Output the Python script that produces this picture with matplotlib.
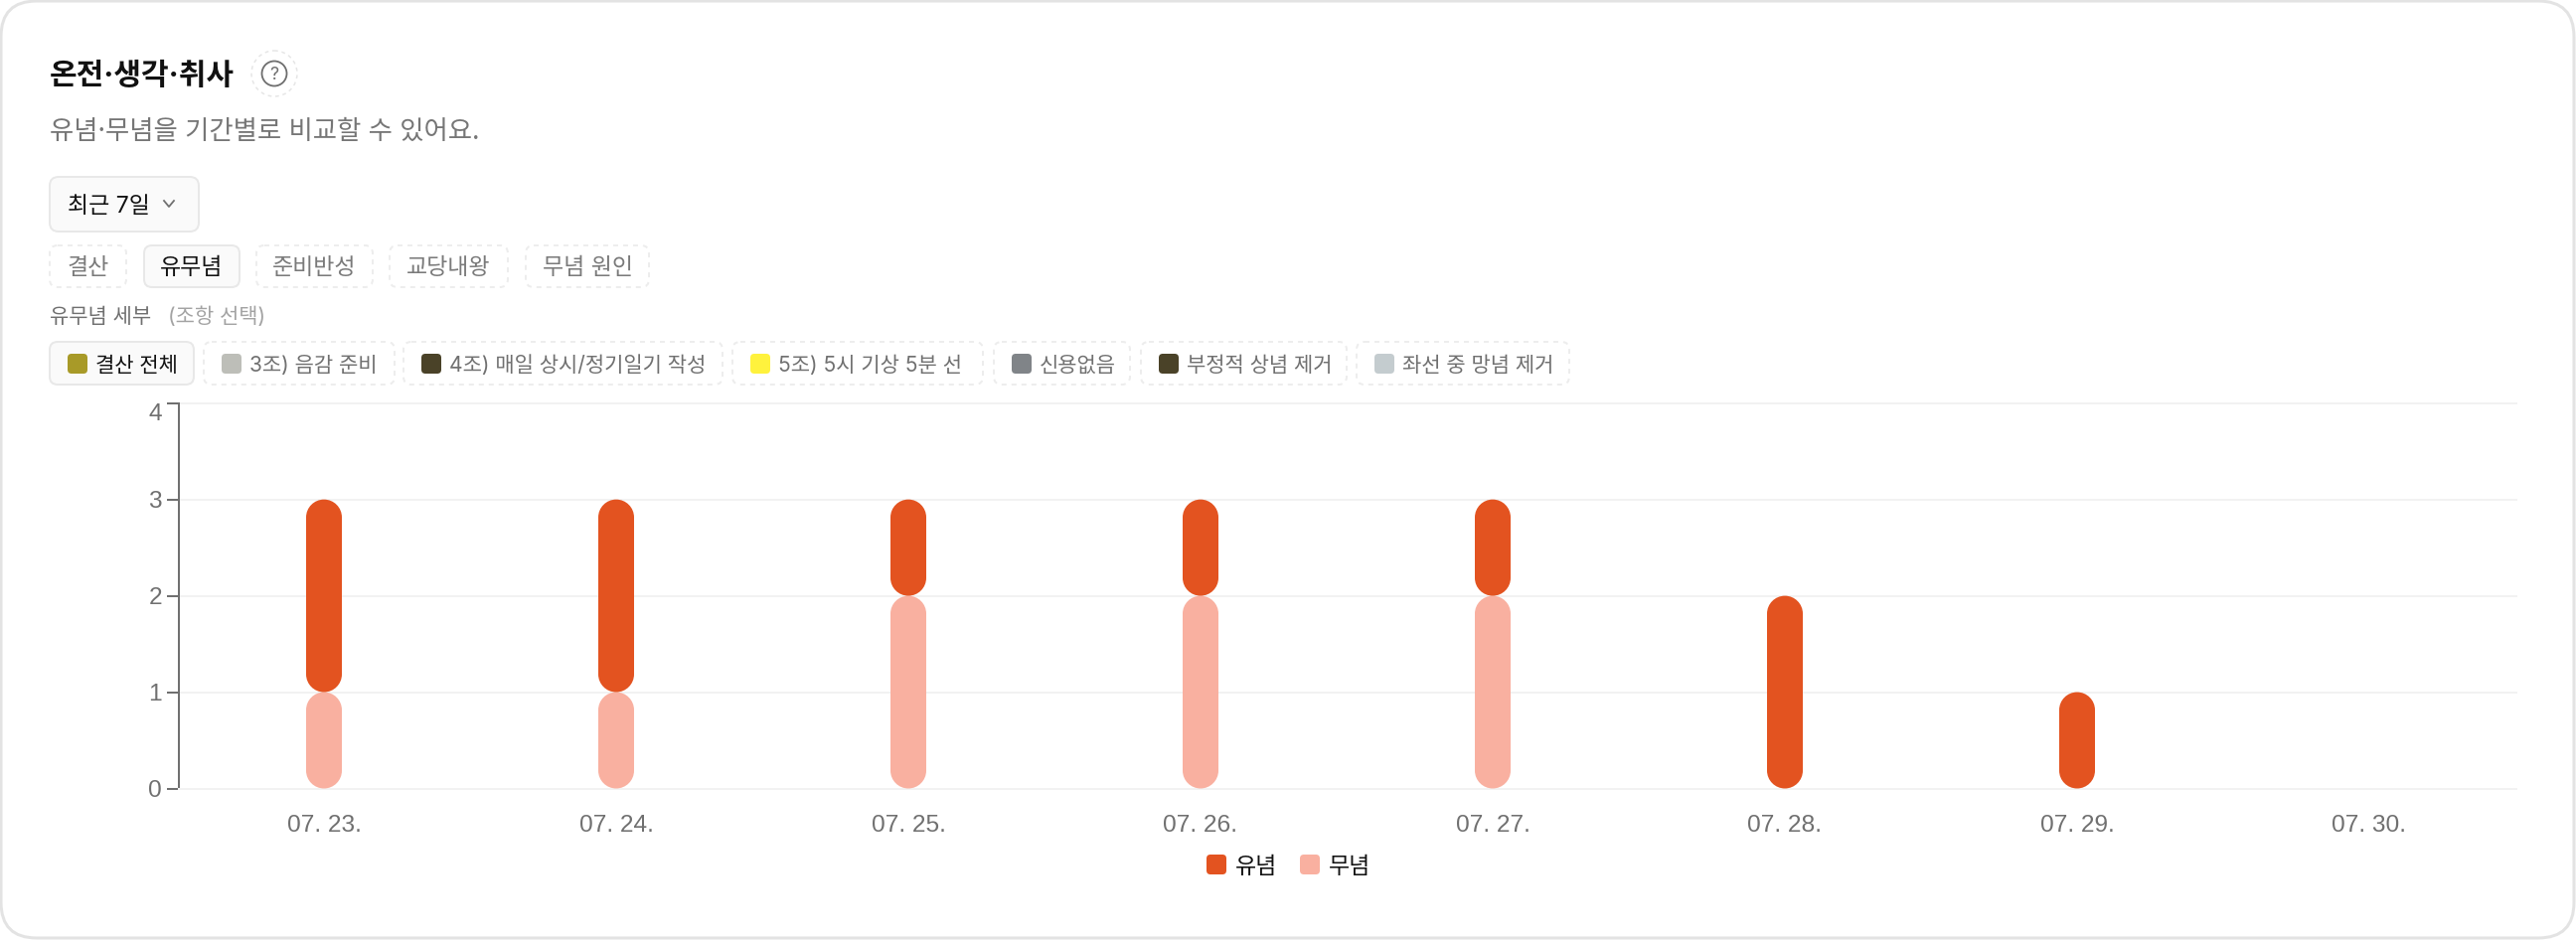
import matplotlib
matplotlib.use("Agg")
import matplotlib.pyplot as plt
from matplotlib.patches import FancyBboxPatch, Circle, PathPatch
from matplotlib.path import Path
import numpy as np

FONT = ['Inter', 'Noto Sans CJK KR', 'DejaVu Sans']
plt.rcParams['font.family'] = FONT

# Data
dates = ["07. 23.", "07. 24.", "07. 25.", "07. 26.", "07. 27.", "07. 28.", "07. 29.", "07. 30."]
yunyeom = [2, 2, 1, 1, 1, 2, 1, 0]
munyeom = [1, 1, 2, 2, 2, 0, 0, 0]
y_ticks = [0, 1, 2, 3, 4]

tabs = ["결산", "유무념", "준비반성", "교당내왕", "무념 원인"]
chips = ["결산 전체", "3조) 음감 준비", "4조) 매일 상시/정기일기 작성", "5조) 5시 기상 5분 선", "신용없음", "부정적 상념 제거", "좌선 중 망념 제거"]
chip_colors = ["#A89A28", "#BDBEB8", "#4A4228", "#FFF23D", "#808488", "#4A4228", "#C4CCCF"]
legend_labels = ["유념", "무념"]
legend_colors = ["#E35320", "#F9B0A0"]

W, H = 2592, 946
PX = 0.72  # px to pt at dpi 100

fig = plt.figure(figsize=(W / 100, H / 100), dpi=100, facecolor='white')

# Overlay in pixel coordinates for the card and the controls
ui = fig.add_axes([0, 0, 1, 1], zorder=0)
ui.set_xlim(0, W)
ui.set_ylim(H, 0)
ui.axis('off')


def box(x0, y0, x1, y1, radius=8, fc='none', ec='#EBEBEB', lw=2, dashed=False):
    ls = (0, (2.5, 2.5)) if dashed else '-'
    ui.add_patch(FancyBboxPatch((x0, y0), x1 - x0, y1 - y0, boxstyle=f"round,pad=0,rounding_size={radius}",
                                fc=fc, ec=ec, lw=lw * PX, ls=ls))


def label(x, y, s, px, color='#111111', ha='left', weight='normal', family=None):
    ui.text(x, y, s, fontsize=px * PX, color=color, ha=ha, va='center_baseline', fontweight=weight,
            family=family or FONT)


def pill(x0, y0, x1, y1, rx, ry):
    # rectangle with true elliptical corners, matplotlib's round box uses quadratic curves
    k = 0.5523
    verts = [(x0 + rx, y0), (x1 - rx, y0),
             (x1 - rx + k * rx, y0), (x1, y0 + ry - k * ry), (x1, y0 + ry),
             (x1, y1 - ry),
             (x1, y1 - ry + k * ry), (x1 - rx + k * rx, y1), (x1 - rx, y1),
             (x0 + rx, y1),
             (x0 + rx - k * rx, y1), (x0, y1 - ry + k * ry), (x0, y1 - ry),
             (x0, y0 + ry),
             (x0, y0 + ry - k * ry), (x0 + rx - k * rx, y0), (x0 + rx, y0)]
    codes = [Path.MOVETO, Path.LINETO,
             Path.CURVE4, Path.CURVE4, Path.CURVE4,
             Path.LINETO,
             Path.CURVE4, Path.CURVE4, Path.CURVE4,
             Path.LINETO,
             Path.CURVE4, Path.CURVE4, Path.CURVE4,
             Path.LINETO,
             Path.CURVE4, Path.CURVE4, Path.CURVE4]
    return Path(verts, codes)


# Card
box(1, 1, W - 2, H - 2, radius=36, fc='white', ec='#E3E3E3', lw=3)

# Header
label(50, 74, "온전·생각·취사", 30, color='#111111', weight='bold')
ui.add_patch(Circle((276, 74), 23, fc='none', ec='#E6E6E6', lw=1.5 * PX, ls=(0, (2.5, 2.5))))
ui.add_patch(Circle((276, 74), 12.5, fc='none', ec='#6E6E6E', lw=1.8 * PX))
label(276, 74, "?", 18, color='#6E6E6E', ha='center')
label(50, 130, "유념·무념을 기간별로 비교할 수 있어요.", 26.4, color='#767676')

# Period dropdown
box(50, 178, 200, 233, radius=9, fc='#FAFAFA', ec='#E8E8E8')
label(68, 205, "최근 7일", 23, color='#111111')
ui.plot([165, 170, 175], [202, 208, 202], color='#707070', lw=1.8 * PX)

# Tabs
tab_boxes = [(50, 127), (145, 241), (258, 375), (392, 511), (529, 653)]
tab_active = 1
for i, (name, (x0, x1)) in enumerate(zip(tabs, tab_boxes)):
    if i == tab_active:
        box(x0, 247, x1, 289, fc='#FAFAFA', ec='#E8E8E8')
    else:
        box(x0, 247, x1, 289, ec='#EDEDED', dashed=True)
    label((x0 + x1) / 2, 267, name, 23, color='#111111' if i == tab_active else '#7A7A7A', ha='center')

label(50, 317, "유무념 세부", 21, color='#707070')
label(169, 317, "(조항 선택)", 21, color='#A3A3A3')

# Chips
chip_boxes = [(50, 195), (205, 397), (406, 727), (737, 989), (1000, 1137), (1148, 1355), (1365, 1579)]
for i, (name, col, (x0, x1)) in enumerate(zip(chips, chip_colors, chip_boxes)):
    if i == 0:
        box(x0, 344, x1, 387, fc='#FAFAFA', ec='#E8E8E8')
    else:
        box(x0, 344, x1, 387, ec='#EDEDED', dashed=True)
    box(x0 + 18, 356, x0 + 38, 376, radius=4, fc=col, ec='none', lw=0)
    label(x0 + 46, 366, name, 21, color='#111111' if i == 0 else '#707070')

# Chart
ax = fig.add_axes([180 / W, (H - 793.5) / H, 2352 / W, (793.5 - 405.7) / H], zorder=1)
ax.patch.set_alpha(0)
x = np.arange(len(dates))
bar_w = 36 / 294
b1 = ax.bar(x, munyeom, bar_w, color=legend_colors[1], label=legend_labels[1], zorder=3)
b2 = ax.bar(x, yunyeom, bar_w, bottom=munyeom, color=legend_colors[0], label=legend_labels[0], zorder=3)
ax.set_xlim(-0.5 + 1 / 294, len(dates) - 0.5 + 1 / 294)
ax.set_ylim(0, 4)

# swap the square bars for rounded ones, 18 px radius
y_px = (793.5 - 405.7) / 4
for bars in [b1, b2]:
    for rect in list(bars):
        if rect.get_height() > 0:
            p = pill(rect.get_x(), rect.get_y(), rect.get_x() + rect.get_width(), rect.get_y() + rect.get_height(),
                     18 / 294, 18 / y_px)
            ax.add_patch(PathPatch(p, fc=rect.get_facecolor(), ec='none', zorder=3))
        rect.set_visible(False)

for s in ['top', 'right']:
    ax.spines[s].set_visible(False)
ax.spines['left'].set_color('#707070')
ax.spines['left'].set_linewidth(2 * PX)
ax.spines['bottom'].set_color('#F2F2F2')
ax.spines['bottom'].set_linewidth(2 * PX)
ax.set_yticks(y_ticks)
ax.set_xticks(x, dates)
ax.grid(axis='y', color='#F2F2F2', lw=2 * PX, zorder=0)
for gl in ax.get_ygridlines():
    gl.set_clip_on(False)
ax.tick_params(axis='y', length=12 * PX, width=2 * PX, color='#707070', pad=5 * PX, labelsize=24.5 * PX, labelcolor='#707070')
ax.tick_params(axis='x', length=0, pad=26 * PX, labelsize=24.5 * PX, labelcolor='#707070')
for t in ax.get_yticklabels() + ax.get_xticklabels():
    t.set_family(['Liberation Sans'])
ax.get_yticklabels()[-1].set_va('top')

# Legend
legend_x = [1214, 1308]
for name, col, lx in zip(legend_labels, legend_colors, legend_x):
    box(lx, 860, lx + 20, 880, radius=4, fc=col, ec='none', lw=0)
    label(lx + 29, 870, name, 23, color='#111111')

fig.savefig('out.png', dpi=100, facecolor='white')
